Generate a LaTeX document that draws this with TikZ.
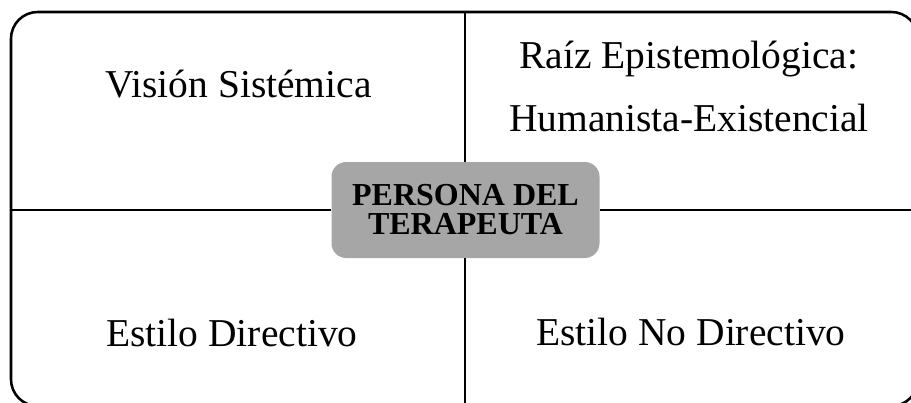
\documentclass[tikz,border=0pt]{standalone}
\usepackage{fontspec}
\setmainfont{Liberation Serif}
\begin{document}
\begin{tikzpicture}[x=0.75pt,y=-0.75pt,
  frame/.style={draw=black,line width=1.9pt,rounded corners=20pt},
  divider/.style={draw=black,line width=1.5pt},
  centerbox/.style={fill={rgb,255:red,166;green,166;blue,166},rounded corners=11pt,
     minimum width=201pt,minimum height=72pt,align=center,inner sep=0pt,
     font=\fontsize{24}{21.75}\selectfont\bfseries},
  label/.style={anchor=base,inner sep=0pt,font=\fontsize{29.6}{29.6}\selectfont}]
\useasboundingbox (0,0) rectangle (911,403);
\clip (0,0) rectangle (911,403);
\draw[frame] (11,12) rectangle (918,406);
\coordinate (top) at (465,12);
\coordinate (bot) at (465,406);
\coordinate (lft) at (11,210);
\coordinate (rgt) at (918,210);
\node[centerbox] (c) at (465.5,210) {PERSONA DEL\\TERAPEUTA};
\draw[divider] (top) -- (c.north -| top);
\draw[divider] (c.south -| bot) -- (bot);
\draw[divider] (lft) -- (c.west |- lft);
\draw[divider] (c.east |- rgt) -- (rgt);
\node[label] (vs) at (238.5,98) {Visión Sistémica};
\node[label] (re) at (689,69) {Raíz Epistemológica:};
\node[label] (he) at (689,132) {Humanista-Existencial};
\node[label] (ed) at (232,346) {Estilo Directivo};
\node[label] (en) at (691,345) {Estilo No Directivo};
\end{tikzpicture}
\end{document}
